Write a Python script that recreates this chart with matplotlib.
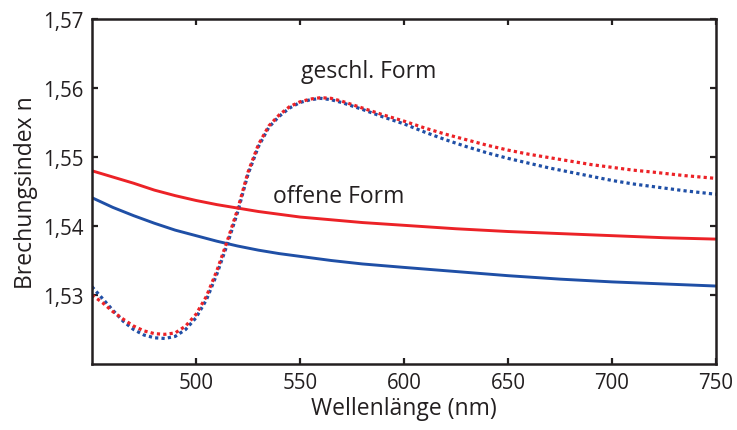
import matplotlib
matplotlib.use("Agg")
import matplotlib.pyplot as plt

# Wavelength grid (nm) and refractive index curves
wl_open = [450, 460, 470, 480, 490, 500, 510, 520, 530, 540, 550, 565, 580, 600,
           625, 650, 675, 700, 725, 750]
n_open_red = [1.5480, 1.5471, 1.5462, 1.5452, 1.5444, 1.5437, 1.5431, 1.5426, 1.5421,
              1.5417, 1.5413, 1.5409, 1.5405, 1.5401, 1.5396, 1.5392, 1.5389, 1.5386,
              1.5383, 1.5381]
n_open_blue = [1.5441, 1.5427, 1.5415, 1.5404, 1.5394, 1.5386, 1.5378, 1.5371, 1.5365,
               1.5360, 1.5356, 1.5350, 1.5345, 1.5340, 1.5334, 1.5328, 1.5323, 1.5319,
               1.5316, 1.5313]

wl_closed = [450, 455, 460, 465, 470, 475, 480, 485, 490, 495, 500, 505, 510, 515,
             520, 525, 530, 535, 540, 545, 550, 555, 560, 565, 570, 580, 590, 600,
             610, 620, 630, 640, 650, 660, 670, 680, 690, 700, 710, 720, 735, 750]
n_closed_red = [1.5300, 1.5289, 1.5276, 1.5265, 1.5255, 1.5248, 1.5244, 1.5243, 1.5245,
                1.5255, 1.5272, 1.5298, 1.5335, 1.5378, 1.5424, 1.5478, 1.5518, 1.5545,
                1.5561, 1.5573, 1.5580, 1.5584, 1.5586, 1.5585, 1.5581, 1.5571, 1.5561,
                1.5552, 1.5542, 1.5533, 1.5525, 1.5517, 1.5510, 1.5504, 1.5499, 1.5494,
                1.5489, 1.5485, 1.5481, 1.5478, 1.5473, 1.5469]
n_closed_blue = [1.5312, 1.5295, 1.5278, 1.5262, 1.5250, 1.5242, 1.5238, 1.5237, 1.5240,
                 1.5250, 1.5267, 1.5293, 1.5330, 1.5373, 1.5420, 1.5475, 1.5515, 1.5543,
                 1.5559, 1.5571, 1.5579, 1.5583, 1.5585, 1.5583, 1.5579, 1.5569, 1.5558,
                 1.5548, 1.5536, 1.5525, 1.5515, 1.5506, 1.5498, 1.5491, 1.5484, 1.5478,
                 1.5472, 1.5466, 1.5461, 1.5457, 1.5451, 1.5446]

x_ticks = [500, 550, 600, 650, 700, 750]
y_ticks = [1.53, 1.54, 1.55, 1.56, 1.57]
y_tick_labels = ["1,53", "1,54", "1,55", "1,56", "1,57"]

RED = "#ec2227"
BLUE = "#1f4fa6"
INK = "#231f20"

plt.rcParams["font.family"] = ["Open Sans", "DejaVu Sans"]

fig = plt.figure(figsize=(7.37, 4.31), dpi=100)
ax = fig.add_axes([92 / 737, 1 - 365 / 431, (716 - 92) / 737, (365 - 20) / 431])

ax.plot(wl_open, n_open_red, color=RED, lw=2.1, solid_capstyle="butt")
ax.plot(wl_open, n_open_blue, color=BLUE, lw=2.1, solid_capstyle="butt")
ax.plot(wl_closed, n_closed_blue, color=BLUE, lw=2.3, dashes=(1.0, 1.0))
ax.plot(wl_closed, n_closed_red, color=RED, lw=2.3, dashes=(1.0, 1.0))

ax.set_xlim(450, 750)
ax.set_ylim(1.52, 1.57)
ax.set_xticks(x_ticks)
ax.set_xticklabels([str(t) for t in x_ticks])
ax.set_yticks(y_ticks)
ax.set_yticklabels(y_tick_labels)

for s in ax.spines.values():
    s.set_linewidth(1.8)
    s.set_color(INK)
ax.tick_params(direction="in", length=4.5, width=1.6, color=INK,
               top=True, right=True, labelsize=14.8, labelcolor=INK)
ax.tick_params(axis="x", pad=6)
ax.tick_params(axis="y", pad=6)

ax.set_xlabel("Wellenlänge (nm)", fontsize=16.5, color=INK, labelpad=2)
ax.set_ylabel("Brechungsindex n", fontsize=16.5, color=INK, labelpad=4)

ax.text(550.5, 1.5625, "geschl. Form", fontsize=16.5, color=INK,
        ha="left", va="center")
ax.text(537, 1.5444, "offene Form", fontsize=16.5, color=INK,
        ha="left", va="center")

fig.savefig("out.png", dpi=100)
